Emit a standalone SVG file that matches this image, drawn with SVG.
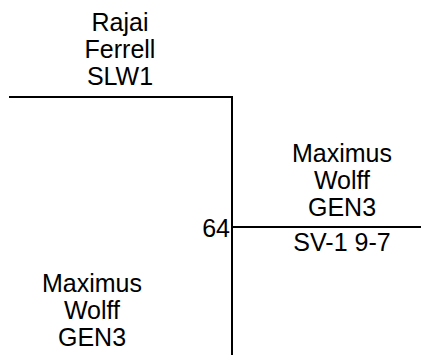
<svg xmlns="http://www.w3.org/2000/svg" width="448" height="355" viewBox="0 0 448 355">
<style>
text{font-family:"Liberation Sans",Arial,sans-serif;font-size:25px;fill:#000;text-anchor:middle}
.c{fill:none;stroke:#000;stroke-width:2}
</style>
<rect width="448" height="355" fill="#fff"/>
<g id="connectors">
<polyline class="c" points="9,97 232,97 232,355"/>
<line class="c" x1="232" y1="227" x2="421" y2="227"/>
</g>
<g id="node-top">
<text x="120" y="31">Rajai</text>
<text x="120" y="58">Ferrell</text>
<text x="120" y="85">SLW1</text>
</g>
<g id="node-right">
<text x="342" y="162">Maximus</text>
<text x="342" y="189">Wolff</text>
<text x="342" y="216">GEN3</text>
<text x="342" y="251">SV-1 9-7</text>
</g>
<g id="node-bottom">
<text x="92" y="292">Maximus</text>
<text x="92" y="319">Wolff</text>
<text x="92" y="346">GEN3</text>
</g>
<g id="score">
<text x="230" y="237" style="text-anchor:end">64</text>
</g>
</svg>
